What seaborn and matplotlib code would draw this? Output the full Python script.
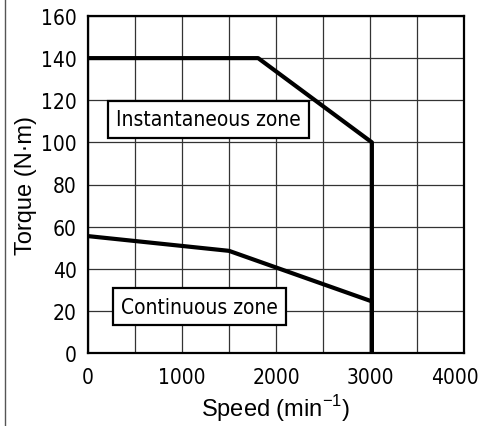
import matplotlib
matplotlib.use("Agg")
import matplotlib.pyplot as plt
from matplotlib import font_manager
from matplotlib.lines import Line2D
from matplotlib.transforms import ScaledTranslation
import seaborn as sns
import pandas as pd

# torque-speed curves
inst_speed = [0, 1810, 3020, 3020]
inst_torque = [140, 140, 100, 0]
cont_speed = [0, 1500, 3020, 3020]
cont_torque = [55.5, 48.5, 24.5, 0]

x_ticks = [0, 1000, 2000, 3000, 4000]
y_ticks = [0, 20, 40, 60, 80, 100, 120, 140, 160]

# condensed face for ticks and zone labels, if one is installed
fonts = font_manager.fontManager.ttflist
names = {f.name for f in fonts}
has_cond = any(f.name == "DejaVu Sans" and f.stretch == "condensed" for f in fonts)
if "Liberation Sans Narrow" in names:
    narrow = dict(family=["Liberation Sans Narrow", "DejaVu Sans"])
elif has_cond:
    narrow = dict(family=["DejaVu Sans"], stretch="condensed")
else:
    narrow = dict(family=["DejaVu Sans"])

sns.set_style("white")
plt.rcParams["font.family"] = ["Liberation Sans", "DejaVu Sans"]

fig = plt.figure(figsize=(4.82, 4.27), dpi=100)
ax = fig.add_axes([88/482, 1-354/427, 376/482, 337/427])

df_i = pd.DataFrame({"speed": inst_speed, "torque": inst_torque})
df_c = pd.DataFrame({"speed": cont_speed, "torque": cont_torque})
for df in (df_i, df_c):
    sns.lineplot(data=df, x="speed", y="torque", sort=False, estimator=None,
                 color="black", lw=3, ax=ax, zorder=3)

ax.set_xlim(0, 4000)
ax.set_ylim(0, 160)
ax.set_xticks(x_ticks)
ax.set_xticks(range(500, 4000, 1000), minor=True)
ax.set_yticks(y_ticks)
ax.grid(True, which="both", color="#333333", lw=0.9)
ax.tick_params(which="both", length=0, labelcolor="black")
ax.tick_params(axis="x", pad=10)
ax.tick_params(axis="y", pad=8)
for lab in ax.get_xticklabels() + ax.get_yticklabels():
    lab.set_family(narrow["family"])
    if "stretch" in narrow:
        lab.set_stretch(narrow["stretch"])
    lab.set_fontsize(15)
# pull the last x label a bit inwards like the original
last = ax.get_xticklabels()[-1]
last.set_transform(last.get_transform() + ScaledTranslation(-9/100, 0, fig.dpi_scale_trans))
for s in ax.spines.values():
    s.set_color("black")
    s.set_linewidth(1.6)

ax.set_xlabel("Speed (min$^{\\mathregular{-1}}$)", fontsize=17, labelpad=4, color="black")
ax.set_ylabel("Torque (N·m)", fontsize=17, labelpad=3, color="black")

box = dict(boxstyle="square,pad=0.4", fc="white", ec="black", lw=1.6)
ax.text(1280, 111, "Instantaneous zone", ha="center", va="center", fontsize=15,
        color="black", bbox=box, zorder=4, **narrow)
ax.text(1185, 22, "Continuous zone", ha="center", va="center", fontsize=15,
        color="black", bbox=box, zorder=4, **narrow)

fig.add_artist(Line2D([5/482, 5/482], [0, 1], color="#555555", lw=1))

fig.savefig("out.png", dpi=100)
